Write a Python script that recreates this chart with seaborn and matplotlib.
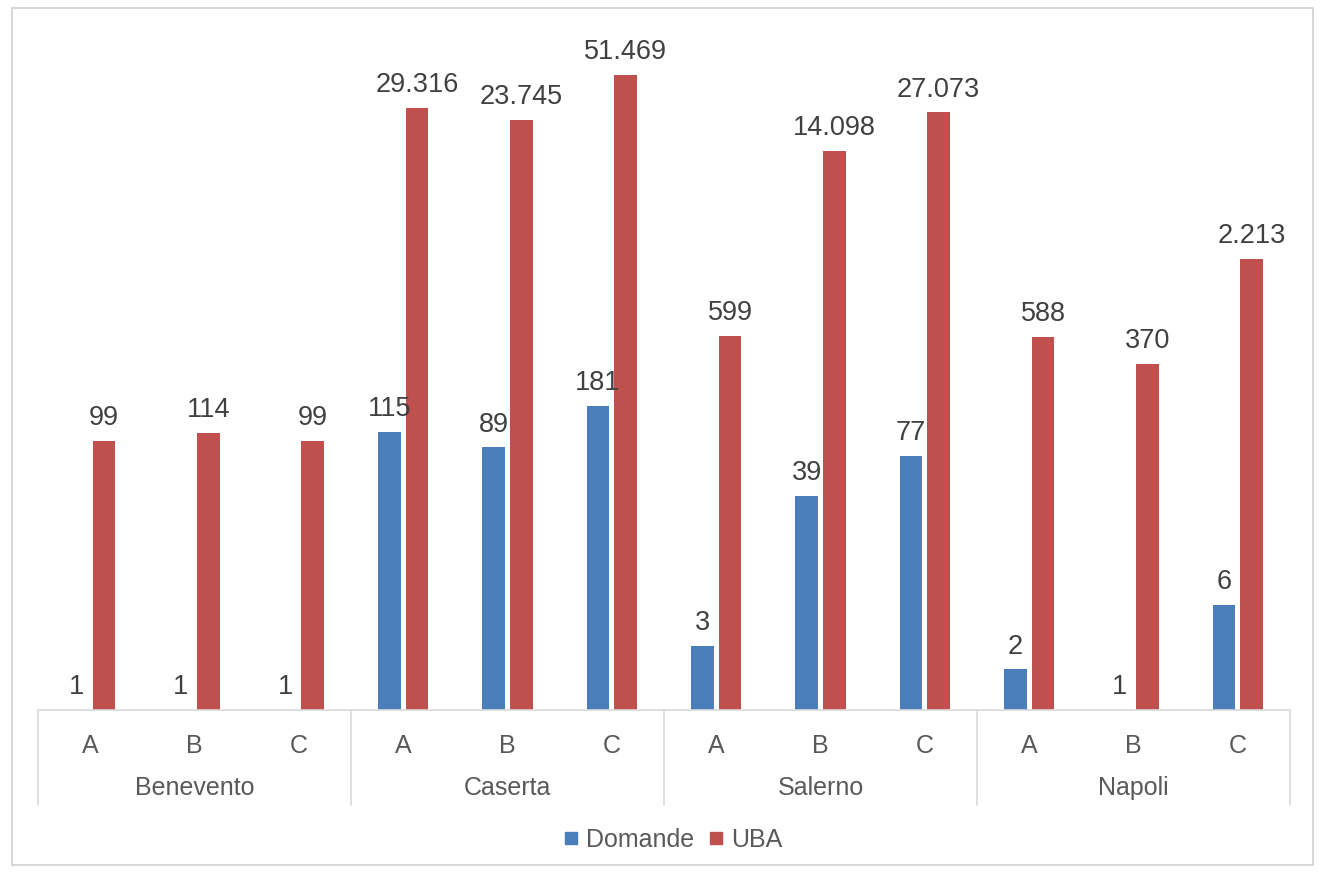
import pandas as pd
import matplotlib
matplotlib.use("Agg")
import matplotlib.pyplot as plt
from matplotlib.patches import Rectangle
from matplotlib.lines import Line2D
import seaborn as sns

province = ["Benevento", "Caserta", "Salerno", "Napoli"]
classi = ["A", "B", "C"]
domande = [1, 1, 1, 115, 89, 181, 3, 39, 77, 2, 1, 6]
uba = [99, 114, 99, 29316, 23745, 51469, 599, 14098, 27073, 588, 370, 2213]

rows = []
for i, prov in enumerate(province):
    for j, cl in enumerate(classi):
        k = i * 3 + j
        rows.append({"cat": f"{prov} {cl}", "serie": "Domande", "valore": domande[k]})
        rows.append({"cat": f"{prov} {cl}", "serie": "UBA", "valore": uba[k]})
df = pd.DataFrame(rows)
order = [f"{p} {c}" for p in province for c in classi]

sns.set_theme(style="white")
plt.rcParams["font.family"] = ["Liberation Sans", "DejaVu Sans"]

fig = plt.figure(figsize=(13.25, 8.73), dpi=100)
ax = fig.add_axes([38 / 1325, 163 / 873, 1252 / 1325, 674 / 873])

colori = {"Domande": "#4a7ebb", "UBA": "#c0504d"}
sns.barplot(data=df, x="cat", y="valore", hue="serie", order=order,
            hue_order=["Domande", "UBA"], palette=colori, width=0.53, gap=0.17,
            ax=ax, legend=False, saturation=1, linewidth=0)
ax.set_yscale("log")
ax.set_ylim(1, 1e5)
ax.set_xlim(-0.5, len(order) - 0.5)

for cont in ax.containers:
    ax.bar_label(cont, labels=[f"{int(v):,}".replace(",", ".") for v in cont.datavalues],
                 padding=7, fontsize=19.5, color="#404040")

ax.set_xlabel("")
ax.set_ylabel("")
ax.set_xticks([])
ax.set_yticks([])
ax.minorticks_off()
for s in ["top", "left", "right"]:
    ax.spines[s].set_visible(False)
ax.spines["bottom"].set_color("#d9d9d9")

trans = ax.get_xaxis_transform()
for k, lab in enumerate(order):
    ax.text(k, -0.053, lab.split()[-1], transform=trans, ha="center", va="center",
            fontsize=18, color="#595959")
for i, prov in enumerate(province):
    ax.text(i * 3 + 1, -0.116, prov, transform=trans, ha="center", va="center",
            fontsize=18, color="#595959")
for i in range(len(province) + 1):
    ax.plot([i * 3 - 0.5] * 2, [0, -0.141], transform=trans, color="#d9d9d9",
            lw=1.2, clip_on=False)

handles = [Line2D([], [], marker="s", ls="", color=colori[s], markersize=8) for s in ["Domande", "UBA"]]
fig.legend(handles, ["Domande", "UBA"], loc="center", bbox_to_anchor=(673 / 1325, 1 - 840 / 873),
           ncol=2, frameon=False, fontsize=18, handlelength=0.6, handletextpad=0.3,
           columnspacing=0.6, labelcolor="#595959")

fig.patches.append(Rectangle((12 / 1325, 8 / 873), 1301 / 1325, 857 / 873,
                             transform=fig.transFigure, fill=False, ec="#d0d0d0", lw=1.2))

fig.savefig("out.png", dpi=100)
